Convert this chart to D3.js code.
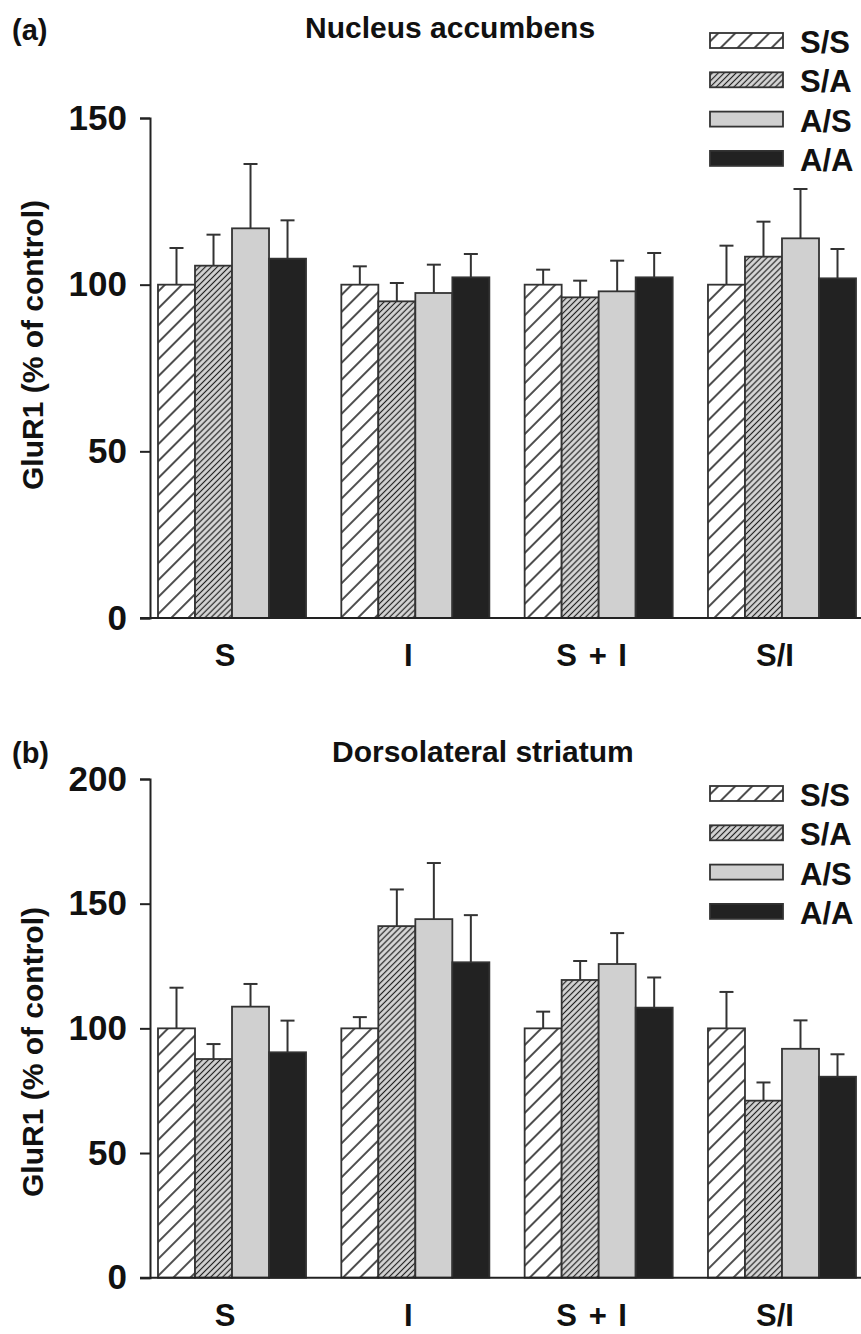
<!DOCTYPE html>
<html>
<head>
<meta charset="utf-8">
<style>
  body { margin: 0; background: #fff; }
  svg text { font-family: "Liberation Sans", Arial, Helvetica, sans-serif; font-weight: bold; fill: #111; }
</style>
</head>
<body>
<svg width="861" height="1334" class="chart"></svg>
<script src="https://d3js.org/d3.v7.min.js" charset="utf-8"></script>
<script>
var categories = ["S", "I", "S + I", "S/I"];
var groups = ["S/S", "S/A", "A/S", "A/A"];

// one row per category, one column per group (S/S, S/A, A/S, A/A)
var nacMean = [
  [100, 105.7, 116.9, 107.8],
  [100, 95.0, 97.5, 102.2],
  [100, 96.2, 98.0, 102.2],
  [100, 108.4, 113.9, 101.9]
];
var nacSem = [
  [11.0, 9.3, 19.3, 11.5],
  [5.5, 5.5, 8.5, 7.0],
  [4.5, 5.0, 9.2, 7.3],
  [11.7, 10.5, 14.8, 8.8]
];
var dlsMean = [
  [100, 87.7, 108.7, 90.4],
  [100, 141.0, 143.8, 126.5],
  [100, 119.4, 125.8, 108.3],
  [100, 71.0, 91.8, 80.6]
];
var dlsSem = [
  [16.3, 6.0, 9.1, 12.7],
  [4.5, 14.7, 22.5, 18.9],
  [6.7, 7.6, 12.4, 12.1],
  [14.6, 7.3, 11.4, 9.0]
];
var nacTicks = [0, 50, 100, 150];
var dlsTicks = [0, 50, 100, 150, 200];

var svg = d3.select(".chart");
var defs = svg.append("defs");

function hatch(id, size, bg, sw) {
  var p = defs.append("pattern")
    .attr("id", id)
    .attr("patternUnits", "userSpaceOnUse")
    .attr("width", size).attr("height", size)
    .attr("patternTransform", "rotate(-45)");
  p.append("rect").attr("width", size).attr("height", size).attr("fill", bg);
  p.append("line").attr("x1", 0).attr("x2", size).attr("y1", size / 2).attr("y2", size / 2)
    .attr("stroke", "#222").attr("stroke-width", sw);
}
hatch("ss", 12, "#fff", 1.6);
hatch("sa", 4.2, "#d6d6d6", 1.2);
var fills = ["url(#ss)", "url(#sa)", "#d0d0d0", "#222"];

function panel(o) {
  var g = svg.append("g");
  var x = d3.scaleBand().domain(categories).range([150, 864]).paddingInner(0.1925).paddingOuter(0.0436);
  var xs = d3.scaleBand().domain(groups).range([0, x.bandwidth()]);
  var y = d3.scaleLinear().domain([0, o.ticks[o.ticks.length - 1]]).range([o.bottom, o.top]);

  var rows = [];
  categories.forEach(function(c, i) {
    groups.forEach(function(s, j) {
      rows.push({cat: c, grp: s, j: j, m: o.mean[i][j], e: o.sem[i][j]});
    });
  });

  // error bars (upper only)
  var eb = g.selectAll(".err").data(rows).enter().append("g").attr("class", "err")
    .attr("stroke", "#333").attr("stroke-width", 2);
  eb.append("line")
    .attr("x1", function(d) { return x(d.cat) + xs(d.grp) + xs.bandwidth() / 2; })
    .attr("x2", function(d) { return x(d.cat) + xs(d.grp) + xs.bandwidth() / 2; })
    .attr("y1", function(d) { return y(d.m); })
    .attr("y2", function(d) { return y(d.m + d.e); });
  eb.append("line")
    .attr("x1", function(d) { return x(d.cat) + xs(d.grp) + xs.bandwidth() / 2 - 7; })
    .attr("x2", function(d) { return x(d.cat) + xs(d.grp) + xs.bandwidth() / 2 + 7; })
    .attr("y1", function(d) { return y(d.m + d.e); })
    .attr("y2", function(d) { return y(d.m + d.e); });

  g.selectAll(".bar").data(rows).enter().append("rect").attr("class", "bar")
    .attr("x", function(d) { return x(d.cat) + xs(d.grp); })
    .attr("width", xs.bandwidth())
    .attr("y", function(d) { return y(d.m); })
    .attr("height", function(d) { return y(0) - y(d.m); })
    .attr("fill", function(d) { return fills[d.j]; })
    .attr("stroke", "#333").attr("stroke-width", 1.8);

  // y axis
  var ya = g.append("g").attr("transform", "translate(150,0)")
    .call(d3.axisLeft(y).tickValues(o.ticks).tickSize(10).tickSizeOuter(10).tickPadding(13));
  ya.selectAll("path, line").attr("stroke", "#222").attr("stroke-width", 2);
  ya.selectAll("text").attr("font-size", 35).attr("fill", "#111");

  // x axis line
  g.append("line").attr("x1", x.range()[0] - 10).attr("x2", 861)
    .attr("y1", y(0)).attr("y2", y(0)).attr("stroke", "#222").attr("stroke-width", 2);

  var xa = g.append("g").attr("transform", "translate(0," + y(0) + ")")
    .call(d3.axisBottom(x).tickSize(0).tickPadding(26));
  xa.select(".domain").remove();
  xa.selectAll("text").attr("font-size", 31).attr("word-spacing", 3).attr("dx", -7).attr("fill", "#111");

  // y label
  g.append("text").attr("transform", "translate(43," + o.labelY + ") rotate(-90)")
    .attr("text-anchor", "middle").attr("font-size", 30).text("GluR1 (% of control)");

  g.append("text").attr("x", 12).attr("y", o.tagY).attr("font-size", 29).text(o.tag);
  g.append("text").attr("x", o.titleX).attr("y", o.titleY).attr("font-size", 30).text(o.title);

  // legend
  var lg = g.selectAll(".leg").data(groups).enter().append("g").attr("class", "leg")
    .attr("transform", function(d, i) { return "translate(710," + (o.legendY + i * 39.3) + ")"; });
  lg.append("rect").attr("width", 73).attr("height", 15)
    .attr("fill", function(d, i) { return fills[i]; })
    .attr("stroke", "#333").attr("stroke-width", 1.8);
  lg.append("text").attr("x", 90).attr("y", 20).attr("font-size", 31).text(function(d) { return d; });
}

panel({
  mean: nacMean, sem: nacSem, ticks: nacTicks, top: 118, bottom: 618,
  title: "Nucleus accumbens", titleX: 305, titleY: 38,
  tag: "(a)", tagY: 40, legendY: 33, labelY: 345
});
panel({
  mean: dlsMean, sem: dlsSem, ticks: dlsTicks, top: 779, bottom: 1277.7,
  title: "Dorsolateral striatum", titleX: 332, titleY: 762,
  tag: "(b)", tagY: 763, legendY: 786, labelY: 1052
});
</script>
</body>
</html>
